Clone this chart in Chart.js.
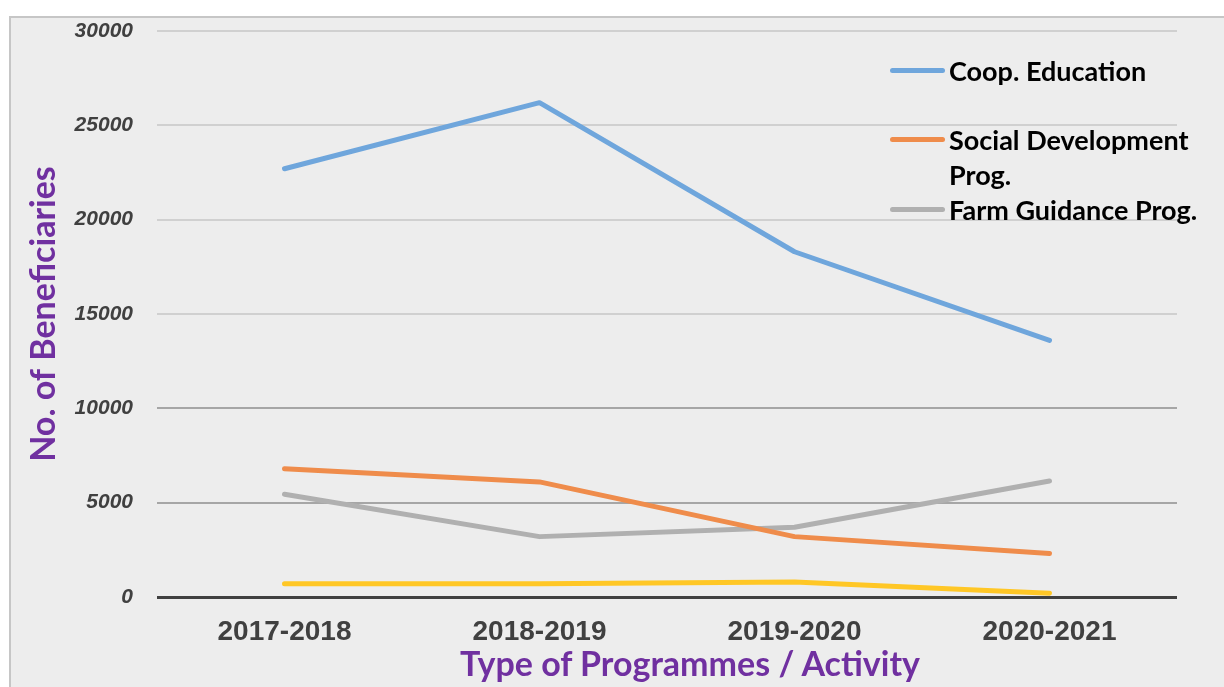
<!DOCTYPE html>
<html>
<head>
<meta charset="utf-8">
<script src="https://cdn.jsdelivr.net/npm/chart.js@4.4.0/dist/chart.umd.min.js"></script>
<style>
  html, body { margin: 0; padding: 0; background: #fff; overflow: hidden; }
  #frame { position: absolute; left: 9px; top: 16px; width: 1220px; height: 680px; background: #ededed; border: 2px solid #c6c6c6; }
  #wrap { position: absolute; left: 0; top: 0; width: 1224px; height: 687px; }
  #legend { position: absolute; left: 890px; top: 0; font: bold 27px Lato, sans-serif; color: #000; }
  .item { position: absolute; left: 0; line-height: 35px; white-space: nowrap; }
  .swatch { position: absolute; left: 0; top: 15px; width: 55px; height: 5px; border-radius: 3px; }
  .text { position: absolute; left: 59px; top: 0; }
  #xtitle { position: absolute; left: 390px; width: 600px; top: 642px; line-height: 40px; text-align: center;
            font: bold 34px Lato, sans-serif; color: #7030a0; white-space: nowrap; }
</style>
</head>
<body>
<div id="frame"></div>
<div id="wrap"><canvas id="chart" width="1224" height="687"></canvas></div>
<div id="legend"></div>
<div id="xtitle">Type of Programmes / Activity</div>
<script>
// Data
const years = ['2017-2018', '2018-2019', '2019-2020', '2020-2021'];
const coopEducation = [22700, 26200, 18300, 13600];
const socialDevelopment = [6800, 6100, 3200, 2300];
const farmGuidance = [5450, 3200, 3700, 6150];
const otherProg = [700, 700, 800, 200];

const seriesNames = [['Coop. Education'], ['Social Development', 'Prog.'], ['Farm Guidance Prog.'], ['Other']];
const seriesColors = ['#6fa6dc', '#ef8c4b', '#b0b0b0', '#ffc726'];
const legendTops = [70, 139, 209];

function makeSet(i, values) {
    return {
        label: seriesNames[i].join(' '),
        data: values,
        borderColor: seriesColors[i],
        backgroundColor: seriesColors[i],
        borderWidth: 5,
        borderCapStyle: 'round',
        borderJoinStyle: 'round',
        pointRadius: 0,
        tension: 0,
        fill: false
    };
}

// Legend (only three series are named in the picture)
const legend = document.getElementById('legend');
legendTops.forEach((y, i) => {
    const item = document.createElement('div');
    item.className = 'item';
    item.style.top = (y - 17.5) + 'px';
    item.innerHTML = `<div class="swatch" style="background:${seriesColors[i]}"></div>` +
        `<div class="text">${seriesNames[i].join('<br>')}</div>`;
    legend.appendChild(item);
});

const ctx = document.getElementById('chart').getContext('2d');
new Chart(ctx, {
    type: 'line',
    data: {
        labels: years,
        datasets: [
            makeSet(0, coopEducation),
            makeSet(1, socialDevelopment),
            makeSet(2, farmGuidance),
            makeSet(3, otherProg)
        ]
    },
    options: {
        responsive: false,
        animation: false,
        layout: { padding: { left: 0, right: 47, top: 31, bottom: 0 } },
        plugins: {
            legend: { display: false },
            tooltip: { enabled: false }
        },
        scales: {
            x: {
                offset: true,
                afterFit: (scale) => { scale.height = 90; },
                grid: { display: false, drawTicks: false },
                border: { display: false },
                ticks: {
                    padding: 18,
                    color: '#404040',
                    font: { family: 'Liberation Sans', size: 28, weight: 'bold' }
                }
            },
            y: {
                min: 0,
                max: 30000,
                afterFit: (scale) => {
                    scale.width = 157;
                    scale.paddingTop = 0;
                    scale.paddingBottom = 0;
                },
                border: { display: false },
                grid: {
                    drawTicks: false,
                    color: (c) => c.tick.value === 0 ? '#404040' : (c.tick.value <= 10000 ? '#a6a6a6' : '#d0d0d0'),
                    lineWidth: (c) => c.tick.value === 0 ? 3 : 2
                },
                ticks: {
                    stepSize: 5000,
                    padding: 24,
                    color: '#404040',
                    font: { family: 'Liberation Sans', size: 21, weight: 'bold', style: 'italic' },
                    callback: (v) => String(v)
                },
                title: {
                    display: true,
                    text: 'No. of Beneficiaries',
                    color: '#7030a0',
                    font: { family: 'Lato', size: 34, weight: 'bold' },
                    padding: { top: 24, bottom: 0 }
                }
            }
        }
    }
});
</script>
</body>
</html>
